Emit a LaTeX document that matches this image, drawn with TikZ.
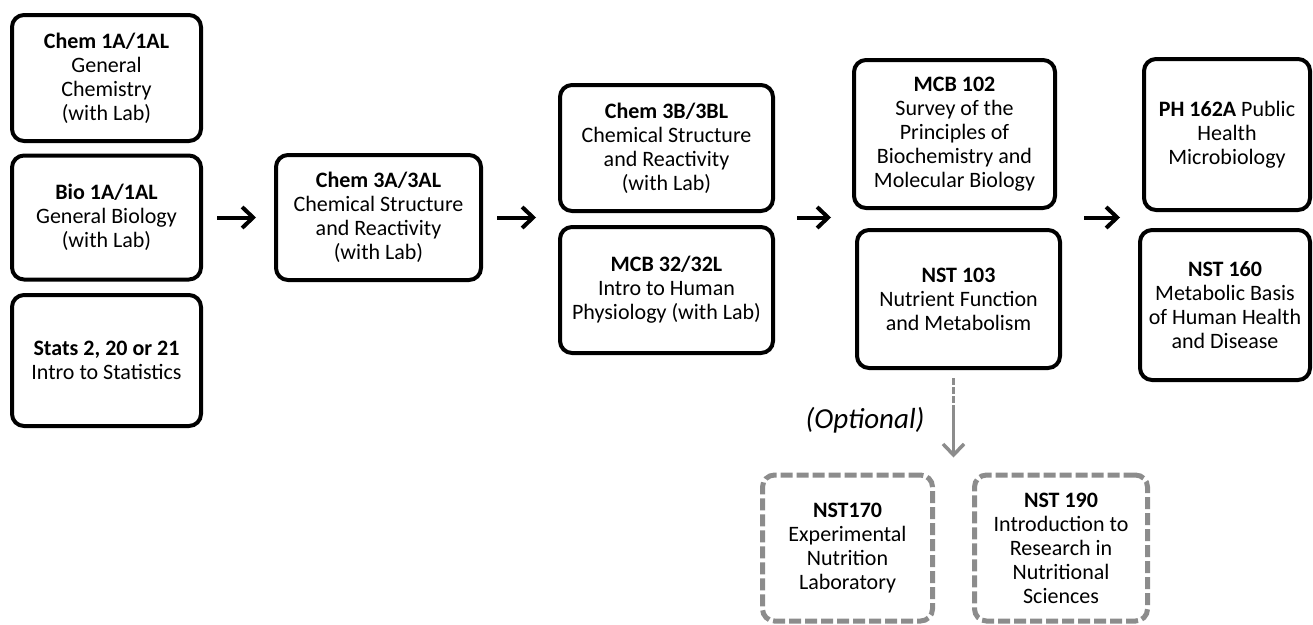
\documentclass[tikz,border=0pt]{standalone}
\usepackage{fontspec}
\setmainfont{Carlito}
\usepackage{tikz}
\usetikzlibrary{arrows.meta, positioning, calc}
\definecolor{optgray}{RGB}{140,140,140}
\tikzset{
        >={Straight Barb[length=11pt,width=21pt]}, % open arrow heads
        flow/.style={->, line width=4pt, shorten <=14pt, shorten >=18pt}, % arrows between the columns
        optflow/.style={->, draw=optgray, line width=3.5pt, dash pattern=on 7pt off 2pt on 7pt off 2pt on 7pt off 2pt on 80pt off 0pt, shorten <=8pt, shorten >=15pt},
    }
\tikzstyle{course}=[draw,line width=4pt,rounded corners=12pt,align=center,inner sep=0pt,font=\fontsize{22}{24}\selectfont]
\tikzstyle{optcourse}=[course,draw=optgray,line width=5pt,dash pattern=on 12pt off 4pt]

\begin{document}
\begin{tikzpicture}[x=1pt,y=-1pt]
    \useasboundingbox (0,0) rectangle (1313,624);

    % first year
    \node[course, minimum width=189pt, minimum height=126pt] (chem1a) at (106.5,78)
        {\textbf{Chem 1A/1AL}\\General\\Chemistry\\(with Lab)};
    \node[course, minimum width=189pt, minimum height=124pt] (bio1a) at (106.5,217.5)
        {\textbf{Bio 1A/1AL}\\General Biology\\(with Lab)};
    \node[course, minimum width=189pt, minimum height=131pt] (stats) at (106.5,360.5)
        {\textbf{Stats 2, 20 or 21}\\Intro to Statistics};

    \node[course, minimum width=205pt, minimum height=125pt] (chem3a) at (378.5,217.5)
        {\textbf{Chem 3A/3AL}\\Chemical Structure\\and Reactivity\\(with Lab)};

    \node[course, minimum width=213pt, minimum height=126pt] (chem3b) at (666.5,148)
        {\textbf{Chem 3B/3BL}\\Chemical Structure\\and Reactivity\\(with Lab)};
    \node[course, minimum width=213pt, minimum height=126pt] (mcb32) at (666.5,290)
        {\textbf{MCB 32/32L}\\Intro to Human\\Physiology (with Lab)};

    \node[course, minimum width=201pt, minimum height=148pt] (mcb102) at (954.5,134)
        {\textbf{MCB 102}\\Survey of the\\Principles of\\Biochemistry and\\Molecular Biology};
    \node[course, minimum width=203pt, minimum height=138pt] (nst103) at (958.5,299)
        {\textbf{NST 103}\\Nutrient Function\\and Metabolism};

    \node[course, minimum width=166pt, minimum height=151pt] (ph162a) at (1227,134.5)
        {\textbf{PH 162A} Public\\Health\\Microbiology};
    \node[course, minimum width=170pt, minimum height=150pt] (nst160) at (1225,305)
        {\textbf{NST 160}\\Metabolic Basis\\of Human Health\\and Disease};

    % optional courses
    \node[optcourse, minimum width=170pt, minimum height=146pt] (nst170) at (847.5,548)
        {\textbf{NST170}\\Experimental\\Nutrition\\Laboratory};
    \node[optcourse, minimum width=173pt, minimum height=146pt] (nst190) at (1061,548)
        {\textbf{NST 190}\\Introduction to\\Research in\\Nutritional\\Sciences};

    \draw[flow] (bio1a.east) -- (bio1a.east -| chem3a.west);
    \draw[flow, shorten >=22pt] (chem3a.east) -- (chem3a.east -| chem3b.west);
    \draw[flow, shorten <=22pt, shorten >=21pt] (chem3b.east |- chem3a.east) -- (mcb102.west |- chem3a.east);
    \draw[flow, shorten <=27pt, shorten >=22pt] (mcb102.east |- chem3a.east) -- (ph162a.west |- chem3a.east);

    \coordinate (optin) at ($(nst170.north east)!0.5!(nst190.north west)$);
    \draw[optflow] (optin |- nst103.south) -- (optin);
    \node[font=\fontsize{29}{32}\selectfont\itshape, anchor=east] (optnote) at (928,420) {(Optional)};
\end{tikzpicture}
\end{document}
